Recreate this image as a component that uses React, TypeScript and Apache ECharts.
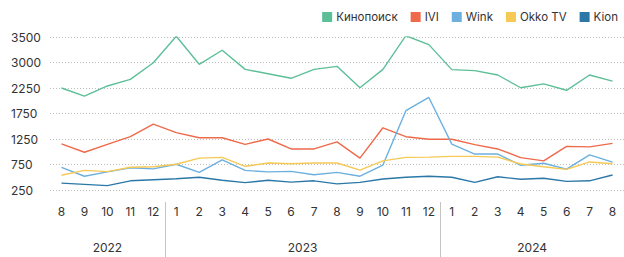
import React, { useEffect, useRef } from "react";
import * as echarts from "echarts";

const MONTHS = [8, 9, 10, 11, 12, 1, 2, 3, 4, 5, 6, 7, 8, 9, 10, 11, 12, 1, 2, 3, 4, 5, 6, 7, 8];
const YEARS = ["2022", "2023", "2024"];
const Y_TICK_LABELS = ["250", "750", "1250", "1750", "2250", "3000", "3500"];

const SERIES_NAMES = ["Кинопоиск", "IVI", "Wink", "Okko TV", "Kion"];
const COLORS = ["#5dbf98", "#ee6a4b", "#6cb0e0", "#f6c955", "#2b78a8"];

const kinopoisk = [2250, 2090, 2290, 2420, 2745, 3265, 2715, 2990, 2615, 2530, 2440, 2615, 2675, 2255, 2615, 3275, 3100, 2610, 2590, 2505, 2255, 2330, 2205, 2505, 2385];
const ivi = [1155, 990, 1145, 1295, 1540, 1375, 1275, 1275, 1145, 1250, 1055, 1055, 1195, 875, 1470, 1295, 1245, 1245, 1140, 1055, 885, 820, 1105, 1095, 1165];
const wink = [695, 520, 605, 685, 665, 755, 595, 840, 635, 605, 615, 550, 595, 520, 740, 1805, 2065, 1150, 955, 955, 735, 775, 660, 940, 795];
const okko = [540, 635, 610, 695, 705, 755, 875, 890, 715, 780, 765, 780, 780, 640, 820, 890, 895, 910, 910, 895, 760, 705, 655, 800, 765];
const kion = [385, 360, 335, 430, 450, 470, 500, 440, 395, 440, 405, 430, 370, 400, 465, 500, 520, 500, 400, 510, 460, 480, 420, 430, 545];

const SERIES_DATA = [kinopoisk, ivi, wink, okko, kion];

// year spans: a new year starts where month === 1
function yearSpans() {
  const starts = [0];
  MONTHS.forEach((m, i) => {
    if (i > 0 && m === 1) starts.push(i);
  });
  return starts.map((s, k) => {
    const e = k + 1 < starts.length ? starts[k + 1] - 1 : MONTHS.length - 1;
    return { start: s, end: e, center: (s + e) / 2 };
  });
}

const FONT = "Inter, 'Noto Sans', sans-serif";

export default function App() {
  const ref = useRef<HTMLDivElement>(null);
  useEffect(() => {
    if (!ref.current) return;
    const chart = echarts.init(ref.current, null, { renderer: "svg" });
    const spans = yearSpans();
    const centers = spans.map((s) => s.center);
    const dividers = spans.slice(1).map((s) => s.start - 0.5);
    chart.setOption({
      animation: false,
      textStyle: { fontFamily: FONT },
      legend: {
        right: 1,
        top: 6,
        itemWidth: 10,
        itemHeight: 10,
        itemGap: 13,
        icon: "rect",
        textStyle: { fontSize: 11.5, color: "#333", fontFamily: FONT, padding: [0, 0, 0, -1] },
        data: SERIES_NAMES,
      },
      grid: { left: 50, top: 37, width: 580, height: 153, containLabel: false },
      xAxis: [
        {
          type: "category",
          data: MONTHS.map(String),
          boundaryGap: true,
          axisLine: { show: false },
          axisTick: { show: false },
          axisLabel: { margin: 15, fontSize: 12, color: "#333", fontFamily: FONT },
          splitLine: { show: false },
        },
        {
          type: "value",
          min: -0.5,
          max: MONTHS.length - 0.5,
          position: "bottom",
          offset: 12,
          axisLine: { show: false },
          splitLine: { show: false },
          axisTick: {
            show: true,
            customValues: dividers,
            length: 56,
            lineStyle: { color: "#c4c4c4", width: 1 },
          },
          axisLabel: {
            customValues: centers,
            margin: 39,
            fontSize: 12,
            color: "#333",
            fontFamily: FONT,
            formatter: (v: number) => {
              const idx = centers.findIndex((c) => Math.abs(c - v) < 1e-6);
              return idx >= 0 ? YEARS[idx] : "";
            },
          },
        },
      ],
      yAxis: {
        type: "value",
        min: 250,
        max: 3250,
        interval: 500,
        axisLine: { show: false },
        axisTick: { show: false },
        axisLabel: {
          align: "left",
          margin: 39,
          fontSize: 12,
          color: "#333",
          fontFamily: FONT,
          formatter: (v: number) => Y_TICK_LABELS[Math.round((v - 250) / 500)] ?? "",
        },
        splitLine: { lineStyle: { color: "#bdbdbd", type: [1, 2], width: 1 } },
      },
      series: SERIES_NAMES.map((name, i) => ({
        name,
        type: "line",
        xAxisIndex: 0,
        data: SERIES_DATA[i],
        symbol: "none",
        color: COLORS[i],
        lineStyle: { width: 1.4, color: COLORS[i] },
      })),
    });
    return () => chart.dispose();
  }, []);
  return (
    <div
      ref={ref}
      style={{ position: "absolute", left: 0, top: 0, width: 624, height: 257 }}
    />
  );
}
